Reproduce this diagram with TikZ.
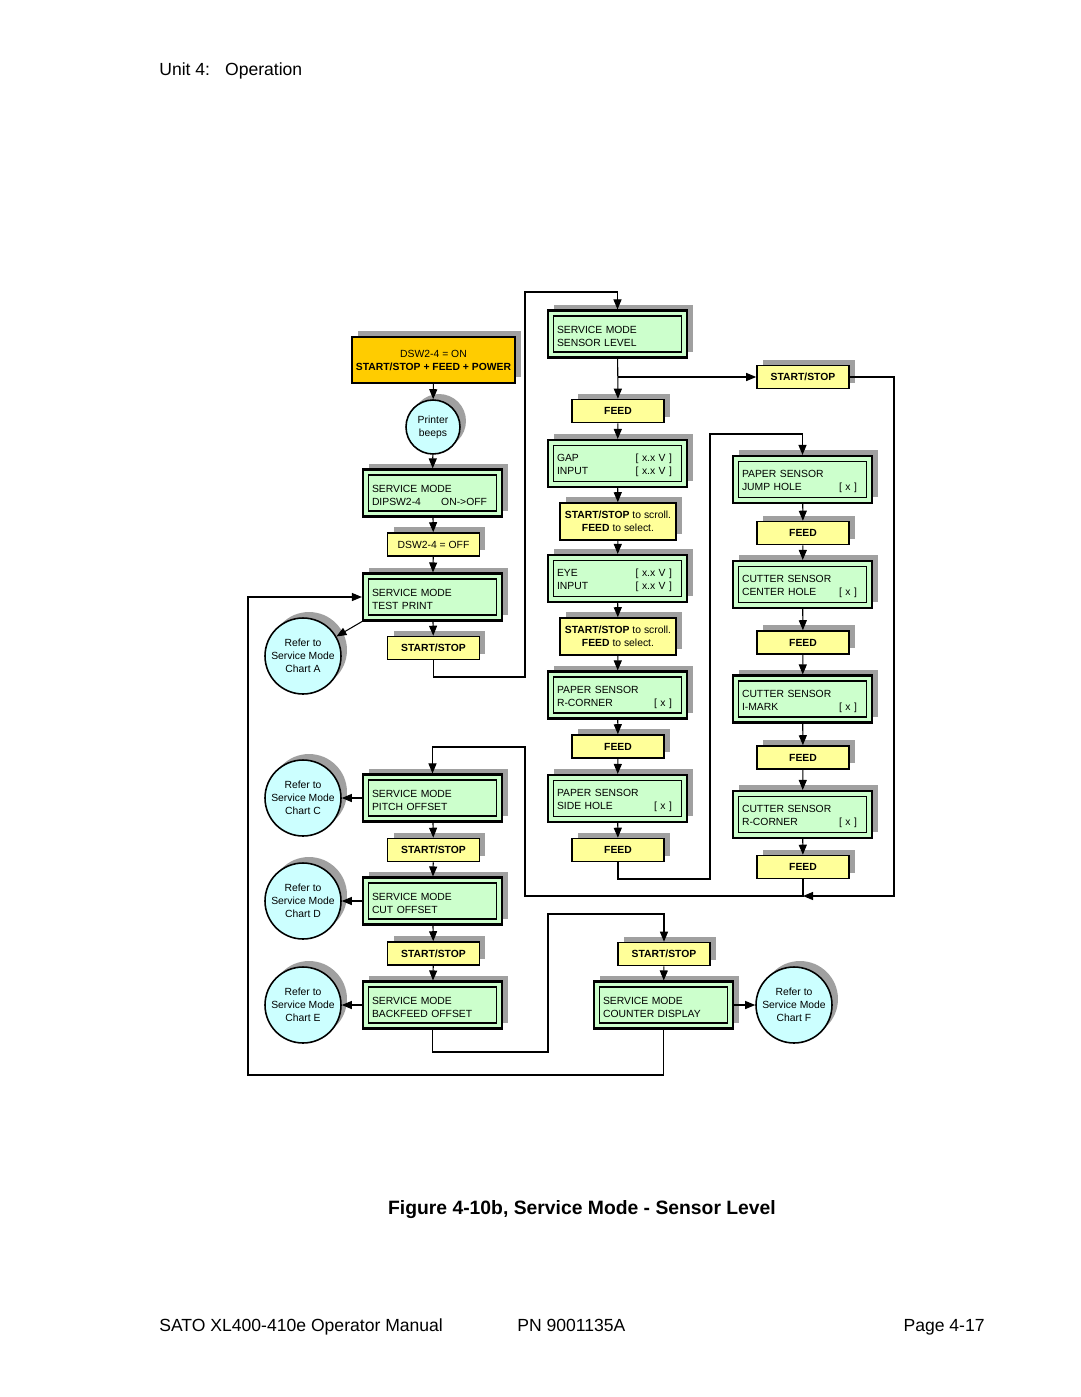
\documentclass[tikz,border=0pt]{standalone}
\usepackage{fontspec}
\setmainfont{Liberation Sans}
\usetikzlibrary{arrows.meta,shadows}
\definecolor{lcdgreen}{HTML}{CCFFCC}
\definecolor{keyyellow}{HTML}{FFFF99}
\definecolor{poweramber}{HTML}{FFCC00}
\definecolor{notecyan}{HTML}{CCFFFF}
\definecolor{shadowgrey}{HTML}{A0A0A0}
\newcommand{\boxfont}{\fontsize{5.9}{7.4}\selectfont}
\newcommand{\rightval}[1]{\hfill#1\rule{0.12cm}{0pt}}
\tikzset{
  boxshadow/.style={drop shadow={shadow xshift=0.12cm,shadow yshift=0.12cm,fill=shadowgrey,opacity=1}},
  lcd/.style={draw,line width=1.2pt,fill=lcdgreen,boxshadow,
    minimum width=2.78cm,minimum height=0.94cm,text width=2.42cm,inner xsep=0.18cm,
    align=left,font=\boxfont,execute at begin node={\rule{0pt}{6.4pt}},
    path picture={\draw[line width=1pt]
      ([shift={(0.11cm,-0.11cm)}]path picture bounding box.north west) rectangle
      ([shift={(-0.11cm,0.11cm)}]path picture bounding box.south east);}},
  key/.style={draw,line width=0.9pt,fill=keyyellow,boxshadow,
    minimum width=1.84cm,minimum height=0.46cm,inner sep=0pt,font=\boxfont\bfseries},
  hint/.style={key,minimum width=2.32cm,minimum height=0.74cm,align=center,font=\boxfont},
  power/.style={key,fill=poweramber,minimum width=3.26cm,minimum height=0.92cm,align=center,font=\boxfont},
  refer/.style={circle,draw,line width=0.9pt,fill=notecyan,boxshadow,
    minimum size=1.52cm,inner sep=0pt,align=center,font=\boxfont},
  page/.style={inner sep=0pt,font=\fontsize{10}{12}\selectfont},
  link/.style={line width=0.6pt,-{Triangle[length=0.2cm,width=0.16cm]}}
}
\begin{document}
\begin{tikzpicture}[x=0.02cm,y=-0.02cm]
    \useasboundingbox (0,0) rectangle (1080,1397);

    \node[page,anchor=base west] (unit) at (159,75) {Unit 4:\hspace{0.3cm}Operation};

    \node[power] (pwr) at (433.5,360) {DSW2-4 = ON\\\textbf{START/STOP + FEED + POWER}};
    \node[refer,minimum size=1.08cm] (beep) at (433,427) {Printer\\beeps};
    \node[lcd] (dip) at (432.5,493) {SERVICE MODE\\DIPSW2-4\rightval{ON->OFF}};
    \node[key,font=\boxfont] (off) at (433.5,544.5) {DSW2-4 = OFF};
    \node[lcd] (tprt) at (432.5,597) {SERVICE MODE\\TEST PRINT};
    \node[key] (ss1) at (433.5,648) {START/STOP};
    \node[refer] (refa) at (303,656) {Refer to\\Service Mode\\Chart A};

    \draw[link] (pwr) -- (beep);
    \draw[link] (beep) -- (dip);
    \draw[link] (dip) -- (off);
    \draw[link] (off) -- (tprt);
    \draw[link] (tprt) -- (ss1);
    \draw[link] (tprt.south west) -- (refa);

    \node[lcd] (slev) at (617.5,334) {SERVICE MODE\\SENSOR LEVEL};
    \node[key] (ss2) at (803,377) {START/STOP};
    \node[key] (fd1) at (618,411) {FEED};
    \node[lcd] (gap) at (617.5,463.5) {GAP\rightval{[ x.x V ]}\\INPUT\rightval{[ x.x V ]}};
    \node[hint] (scr1) at (618,521.5) {\textbf{START/STOP} to scroll.\\\textbf{FEED} to select.};
    \node[lcd] (eye) at (617.5,578.5) {EYE\rightval{[ x.x V ]}\\INPUT\rightval{[ x.x V ]}};
    \node[hint] (scr2) at (618,636.5) {\textbf{START/STOP} to scroll.\\\textbf{FEED} to select.};
    \node[lcd] (prc) at (617.5,695) {PAPER SENSOR\\R-CORNER\rightval{[ x ]}};
    \node[key] (fd2) at (618,746.5) {FEED};
    \node[lcd] (psh) at (617.5,798.5) {PAPER SENSOR\\SIDE HOLE\rightval{[ x ]}};
    \node[key] (fd3) at (618,850) {FEED};

    \coordinate (b1) at (525,677);
    \coordinate (b2) at (525,292);
    \draw[link] (ss1) |- (b1) -- (b2) -| (slev);

    \coordinate (j1) at (618,377);
    \draw[link] (slev) -- (fd1);
    \draw[link] (j1) -- (ss2);
    \draw[link] (fd1) -- (gap);
    \draw[link] (gap) -- (scr1);
    \draw[link] (scr1) -- (eye);
    \draw[link] (eye) -- (scr2);
    \draw[link] (scr2) -- (prc);
    \draw[link] (prc) -- (fd2);
    \draw[link] (fd2) -- (psh);
    \draw[link] (psh) -- (fd3);

    \node[lcd] (jmp) at (802.5,479.5) {PAPER SENSOR\\JUMP HOLE\rightval{[ x ]}};
    \node[key] (fd4) at (803,533) {FEED};
    \node[lcd] (cch) at (802.5,584.5) {CUTTER SENSOR\\CENTER HOLE\rightval{[ x ]}};
    \node[key] (fd5) at (803,642.5) {FEED};
    \node[lcd] (imk) at (802.5,699) {CUTTER SENSOR\\I-MARK\rightval{[ x ]}};
    \node[key] (fd6) at (803,757.5) {FEED};
    \node[lcd] (crc) at (802.5,814.5) {CUTTER SENSOR\\R-CORNER\rightval{[ x ]}};
    \node[key] (fd7) at (803,867) {FEED};

    \coordinate (b3) at (710,879);
    \coordinate (b4) at (710,434);
    \draw[link] (fd3) |- (b3) -- (b4) -| (jmp);

    \draw[link] (jmp) -- (fd4);
    \draw[link] (fd4) -- (cch);
    \draw[link] (cch) -- (fd5);
    \draw[link] (fd5) -- (imk);
    \draw[link] (imk) -- (fd6);
    \draw[link] (fd6) -- (crc);
    \draw[link] (crc) -- (fd7);

    \coordinate (b5) at (894,896);
    \coordinate (j2) at (803,896);
    \draw[link] (ss2) -| (b5) -- (j2);

    \node[lcd] (pof) at (432.5,798) {SERVICE MODE\\PITCH OFFSET};
    \node[refer] (refc) at (303,798) {Refer to\\Service Mode\\Chart C};
    \node[key] (ss3) at (433.5,850) {START/STOP};
    \node[lcd] (cof) at (432.5,901) {SERVICE MODE\\CUT OFFSET};
    \node[refer] (refd) at (303,901) {Refer to\\Service Mode\\Chart D};
    \node[key] (ss4) at (433.5,953.5) {START/STOP};
    \node[lcd] (bof) at (432.5,1005) {SERVICE MODE\\BACKFEED OFFSET};
    \node[refer] (refe) at (303,1005) {Refer to\\Service Mode\\Chart E};
    \node[key] (ss5) at (664,954) {START/STOP};
    \node[lcd] (cnt) at (663.5,1005) {SERVICE MODE\\COUNTER DISPLAY};
    \node[refer] (reff) at (794,1005) {Refer to\\Service Mode\\Chart F};

    \coordinate (b6) at (525,896);
    \coordinate (b7) at (525,747);
    \draw[link] (fd7) |- (b6) -- (b7) -| (pof);

    \draw[link] (pof) -- (refc);
    \draw[link] (pof) -- (ss3);
    \draw[link] (ss3) -- (cof);
    \draw[link] (cof) -- (refd);
    \draw[link] (cof) -- (ss4);
    \draw[link] (ss4) -- (bof);
    \draw[link] (bof) -- (refe);

    \coordinate (b8) at (548,1052);
    \coordinate (b9) at (548,914);
    \draw[link] (bof) |- (b8) -- (b9) -| (ss5);
    \draw[link] (ss5) -- (cnt);
    \draw[link] (cnt) -- (reff);

    \coordinate (b10) at (248,1075);
    \coordinate (b11) at (248,597);
    \draw[link] (cnt) |- (b10) -- (b11) -- (tprt);

    \node[anchor=base,inner sep=0pt,font=\fontsize{11}{13}\selectfont\bfseries] (fig) at (582,1214) {Figure 4-10b, Service Mode - Sensor Level};
    \node[page,anchor=base west] (manual) at (159,1331) {SATO XL400-410e Operator Manual};
    \node[page,anchor=base west] (pn) at (517,1331) {PN 9001135A};
    \node[page,anchor=base east] (pagenum) at (985,1331) {Page 4-17};
\end{tikzpicture}
\end{document}
